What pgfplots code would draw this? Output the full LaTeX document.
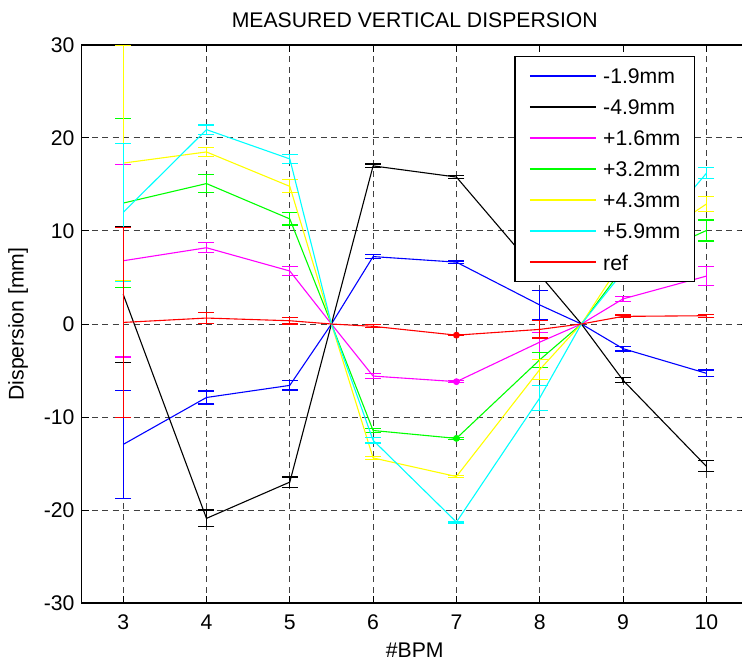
\documentclass[border=0pt]{standalone}
\usepackage{pgfplots}
\pgfplotsset{compat=1.18}
\usepackage{fontspec}
\setmainfont{Liberation Sans}
\definecolor{mblue}{rgb}{0,0,1}
\definecolor{mblack}{rgb}{0,0,0}
\definecolor{mmag}{rgb}{1,0,1}
\definecolor{mgreen}{rgb}{0,1,0}
\definecolor{myellow}{rgb}{1,1,0}
\definecolor{mcyan}{rgb}{0,1,1}
\definecolor{mred}{rgb}{1,0,0}
\pgfplotsset{
  lin/.style={line width=0.55pt, mark=none},
  eb/.style={draw=none, mark=none, forget plot,
    error bars/.cd, y dir=both, y explicit,
    error bar style={draw=#1, line width=0.55pt},
    error mark options={rotate=90, mark size=4pt, line width=0.55pt, draw=#1}},
}
\begin{document}
\begin{tikzpicture}[font=\fontsize{10.6}{12.7}\selectfont]
\begin{axis}[
  name=ax,
  scale only axis,
  width=333.25pt, height=279pt,
  xmin=2.5, xmax=10.5, ymin=-30, ymax=30,
  xtick={3,4,5,6,7,8,9,10},
  xticklabels={3,4,5,6,7,8,9,10},
  ytick={-30,-20,-10,0,10,20,30},
  yticklabels={-30,-20,-10,0,10,20,30},
  tick align=inside,
  tick pos=both,
  major tick length=3.5pt,
  tick style={black, line width=0.5pt},
  axis line style={line width=0.8pt},
  grid=major,
  major grid style={black!75, line width=0.5pt, dash pattern=on 3pt off 2.2pt},
  xticklabel style={anchor=base, yshift=-13.2pt},
  title={MEASURED VERTICAL DISPERSION},
  every axis title shift=0pt,
  title style={at={(axis description cs:0.5,1.0315)}, anchor=base},
  xlabel={\#BPM},
  xlabel style={at={(axis description cs:0.5,-0.0968)}, anchor=base},
  ylabel={Dispersion [mm]},
  ylabel style={at={(axis description cs:-0.0870,0.5)}, anchor=base},
  legend style={at={(axis description cs:0.9205,0.9803)}, anchor=north east,
    draw=black, line width=0.65pt, fill=white,
    inner xsep=7pt, inner ysep=5.8pt, row sep=7.95pt,
    nodes={inner sep=0pt, text height=7.6pt, text depth=0pt},
    font=\fontsize{10.6}{12.7}\selectfont},
  legend cell align=left,
  legend image code/.code={\draw[#1, line width=1pt] (0pt,0pt) -- (33pt,0pt); \path (36.35pt,0pt);},
]
% -1.9mm
\addplot[mblue, lin] coordinates {(3,-12.95) (4,-7.9) (5,-6.6) (5.5,0) (6,7.25) (7,6.65) (8,2.05) (8.5,0) (9,-2.65) (10,-5.3)};
\addlegendentry{-1.9mm}
\addplot[eb=mblue] coordinates {(3,-12.95) +- (0,5.8) (4,-7.9) +- (0,0.7) (5,-6.6) +- (0,0.5) (6,7.25) +- (0,0.25) (7,6.65) +- (0,0.12) (8,2.05) +- (0,1.57) (9,-2.65) +- (0,0.25) (10,-5.3) +- (0,0.35)};
% -4.9mm
\addplot[mblack, lin] coordinates {(3,3.2) (4,-20.9) (5,-17.0) (5.5,0) (6,17.0) (7,15.8) (8,5.3) (8.5,0) (9,-6.05) (10,-15.3)};
\addlegendentry{-4.9mm}
\addplot[eb=mblack] coordinates {(3,3.2) +- (0,7.3) (4,-20.9) +- (0,0.9) (5,-17.0) +- (0,0.55) (6,17.0) +- (0,0.2) (7,15.8) +- (0,0.12) (8,5.3) +- (0,0.7) (9,-6.05) +- (0,0.25) (10,-15.3) +- (0,0.6)};
% +1.6mm
\addplot[mmag, lin] coordinates {(3,6.8) (4,8.2) (5,5.7) (5.5,0) (6,-5.6) (7,-6.2) (8,-1.95) (8.5,0) (9,2.7) (10,5.15)};
\addlegendentry{+1.6mm}
\addplot[eb=mmag] coordinates {(3,6.8) +- (0,10.35) (4,8.2) +- (0,0.55) (5,5.7) +- (0,0.5) (6,-5.6) +- (0,0.3) (7,-6.2) +- (0,0.08) (8,-1.95) +- (0,1.07) (9,2.7) +- (0,0.25) (10,5.15) +- (0,1.05)};
% +3.2mm
\addplot[mgreen, lin] coordinates {(3,13.0) (4,15.1) (5,11.3) (5.5,0) (6,-11.45) (7,-12.3) (8,-3.85) (8.5,0) (9,6.0) (10,10.05)};
\addlegendentry{+3.2mm}
\addplot[eb=mgreen] coordinates {(3,13.0) +- (0,9.1) (4,15.1) +- (0,1.0) (5,11.3) +- (0,0.65) (6,-11.45) +- (0,0.25) (7,-12.3) +- (0,0.08) (8,-3.85) +- (0,0.83) (9,6.0) +- (0,0.3) (10,10.05) +- (0,1.13)};
% +4.3mm
\addplot[myellow, lin] coordinates {(3,17.3) (4,18.5) (5,14.8) (5.5,0) (6,-14.4) (7,-16.4) (8,-4.9) (8.5,0) (9,6.9) (10,12.9)};
\addlegendentry{+4.3mm}
\addplot[eb=myellow] coordinates {(3,17.3) +- (0,12.6) (4,18.5) +- (0,0.5) (5,14.8) +- (0,0.7) (6,-14.4) +- (0,0.2) (7,-16.4) +- (0,0.1) (8,-4.9) +- (0,1.1) (9,6.9) +- (0,0.3) (10,12.9) +- (0,0.85)};
% +5.9mm
\addplot[mcyan, lin] coordinates {(3,12.0) (4,20.9) (5,17.75) (5.5,0) (6,-12.5) (7,-21.3) (8,-7.95) (8.5,0) (9,5.6) (10,16.2)};
\addlegendentry{+5.9mm}
\addplot[eb=mcyan] coordinates {(3,12.0) +- (0,7.45) (4,20.9) +- (0,0.5) (5,17.75) +- (0,0.45) (6,-12.5) +- (0,0.3) (7,-21.3) +- (0,0.1) (8,-7.95) +- (0,1.35) (9,5.6) +- (0,0.3) (10,16.2) +- (0,0.6)};
% ref
\addplot[mred, lin] coordinates {(3,0.17) (4,0.64) (5,0.35) (5.5,0) (6,-0.25) (7,-1.2) (8,-0.58) (8.5,0) (9,0.82) (10,0.89)};
\addlegendentry{ref}
\addplot[eb=mred] coordinates {(3,0.17) +- (0,10.2) (4,0.64) +- (0,0.55) (5,0.35) +- (0,0.35) (6,-0.25) +- (0,0.15) (7,-1.2) +- (0,0.05) (8,-0.58) +- (0,0.93) (9,0.82) +- (0,0.15) (10,0.89) +- (0,0.15)};
% small dots at BPM 7
\addplot[mred, only marks, mark=*, mark size=1.5pt, forget plot] coordinates {(7,-1.2)};
\addplot[mmag, only marks, mark=*, mark size=1.5pt, forget plot] coordinates {(7,-6.2)};
\addplot[mgreen, only marks, mark=*, mark size=1.5pt, forget plot] coordinates {(7,-12.3)};
\end{axis}
\pgfresetboundingbox
\path[use as bounding box] ([xshift=-40.75pt,yshift=-29.5pt]ax.south west) rectangle ([xshift=-3pt,yshift=22.5pt]ax.north east);
\end{tikzpicture}
\end{document}
